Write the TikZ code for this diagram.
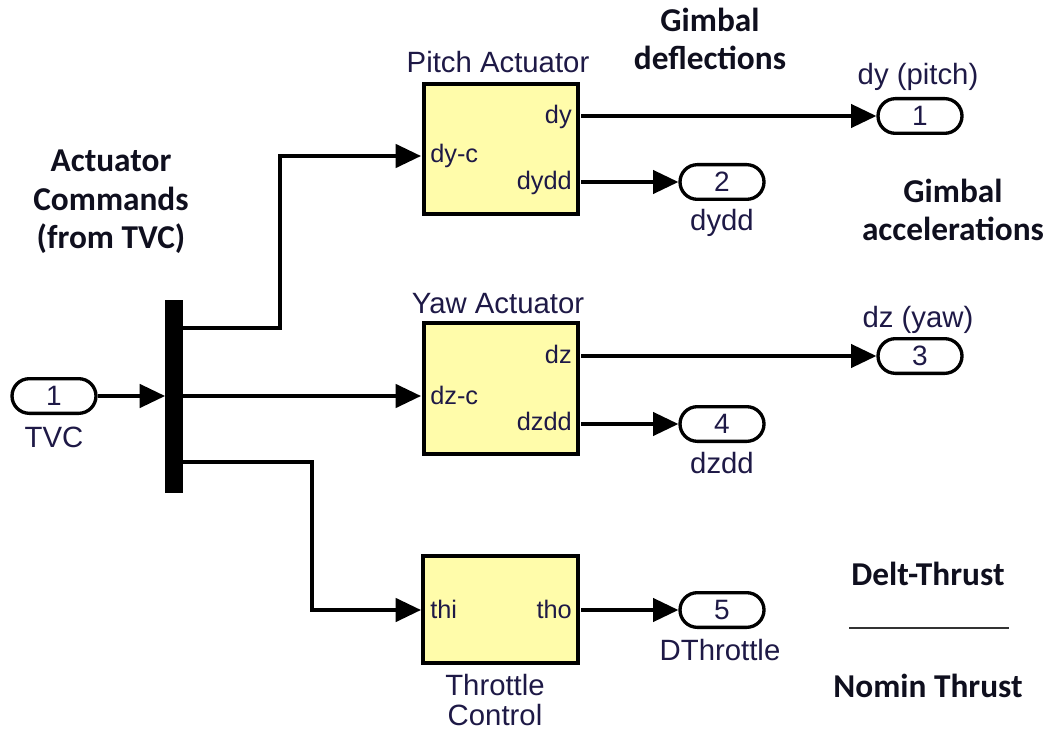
\documentclass[tikz,border=0pt]{standalone}
\usepackage{fontspec}
\setmainfont{Liberation Sans}
\newfontfamily\calfont{Carlito}
\usetikzlibrary{arrows.meta}
\definecolor{blockfill}{RGB}{255,252,170}
\definecolor{simtext}{RGB}{30,25,70}
\definecolor{boldtext}{RGB}{15,15,30}
\begin{document}
\begin{tikzpicture}[x=0.75pt,y=-0.75pt,
  wire/.style={line width=2.6pt},
  sig/.style={wire,-{Triangle[length=19pt,width=17.5pt]}},
  simblock/.style={draw,line width=3.2pt,fill=blockfill,minimum width=116pt,inner sep=0pt},
  ioport/.style={draw,line width=2.5pt,rounded corners=13pt,minimum width=63pt,minimum height=26pt,inner sep=0pt,text=simtext,font=\fontsize{21}{24}\selectfont},
  blabel/.style={anchor=base,text=simtext,inner sep=0pt,font=\fontsize{22}{26}\selectfont},
  plab/.style={anchor=base,text=simtext,inner sep=0pt,font=\fontsize{19}{22}\selectfont},
  boldlab/.style={anchor=base,text=boldtext,inner sep=0pt,font=\calfont\bfseries\fontsize{25}{29}\selectfont}
]
\useasboundingbox (0,0) rectangle (1050,731);

% inport
\node[ioport] (in1) at (54,396) {1};
\node[blabel] (tvc) at (54,447) {TVC};

% bus
\node[draw,fill=black,minimum width=13pt,minimum height=144pt,inner sep=0pt] (bus) at (174,396) {};

% blocks
\node[simblock,minimum height=98pt] (pitch) at (501,149) {};
\node[simblock,minimum height=98pt] (yaw) at (501,388.5) {};
\node[simblock,minimum height=80.5pt] (thr) at (500.5,609.5) {};

\node[blabel] (pitchname) at (498,73) {Pitch Actuator};
\node[blabel] (yawname) at (498,313) {Yaw Actuator};
\node[blabel] (thrname1) at (495,695) {Throttle};
\node[blabel] (thrname2) at (495,725) {Control};

% port labels
\node[plab,anchor=base west] (lpi) at (430,163) {dy-c};
\node[plab,anchor=base east] (lpo1) at (572,124) {dy};
\node[plab,anchor=base east] (lpo2) at (572,190) {dydd};
\node[plab,anchor=base west] (lyi) at (430,404) {dz-c};
\node[plab,anchor=base east] (lyo1) at (572,363) {dz};
\node[plab,anchor=base east] (lyo2) at (572,430) {dzdd};
\node[plab,anchor=base west] (lti) at (430,618) {thi};
\node[plab,anchor=base east] (lto) at (572,618) {tho};

% port coordinates
\coordinate (pin) at (421,156);
\coordinate (pout1) at (581,116);
\coordinate (pout2) at (581,182);
\coordinate (yin) at (421,396);
\coordinate (yout1) at (581,356);
\coordinate (yout2) at (581,424);
\coordinate (tin) at (421,610);
\coordinate (tout) at (581,610);
\coordinate (b1) at (183,328);
\coordinate (b3) at (183,462);

% outports
\node[ioport] (o1) at (920,116) {1};
\node[ioport] (o2) at (722,182) {2};
\node[ioport] (o3) at (920,356) {3};
\node[ioport] (o4) at (722,424) {4};
\node[ioport] (o5) at (722,610) {5};
\node[blabel] (o1n) at (918,85) {dy (pitch)};
\node[blabel] (o2n) at (722,231) {dydd};
\node[blabel] (o3n) at (918,327) {dz (yaw)};
\node[blabel] (o4n) at (722,473) {dzdd};
\node[blabel] (o5n) at (720,660) {DThrottle};

% connectors
\draw[sig] (in1.east) -- (bus.west |- in1.east);
\draw[sig] (b1) -- (280,328) -- (280,156) -- (pin);
\draw[sig] (bus.east |- yin) -- (yin);
\draw[sig] (b3) -- (312,462) -- (312,610) -- (tin);
\draw[sig] (pout1) -- (o1.west);
\draw[sig] (pout2) -- (o2.west);
\draw[sig] (yout1) -- (o3.west);
\draw[sig] (yout2) -- (o4.west);
\draw[sig] (tout) -- (o5.west);

% annotations
\node[boldlab] (ac1) at (111,172) {Actuator};
\node[boldlab] (ac2) at (111,210) {Commands};
\node[boldlab] (ac3) at (111,248) {(from TVC)};
\node[boldlab] (gd1) at (710,32) {Gimbal};
\node[boldlab] (gd2) at (710,70) {deflections};
\node[boldlab] (ga1) at (953,203) {Gimbal};
\node[boldlab] (ga2) at (953,241) {accelerations};
\node[boldlab] (dt) at (928,585) {Delt-Thrust};
\node[boldlab] (nt) at (928,697) {Nomin Thrust};
\coordinate (fl) at (849,628);
\coordinate (fr) at (1009,628);
\draw[line width=1.6pt,color=black!80] (fl) -- (fr);
\end{tikzpicture}
\end{document}
